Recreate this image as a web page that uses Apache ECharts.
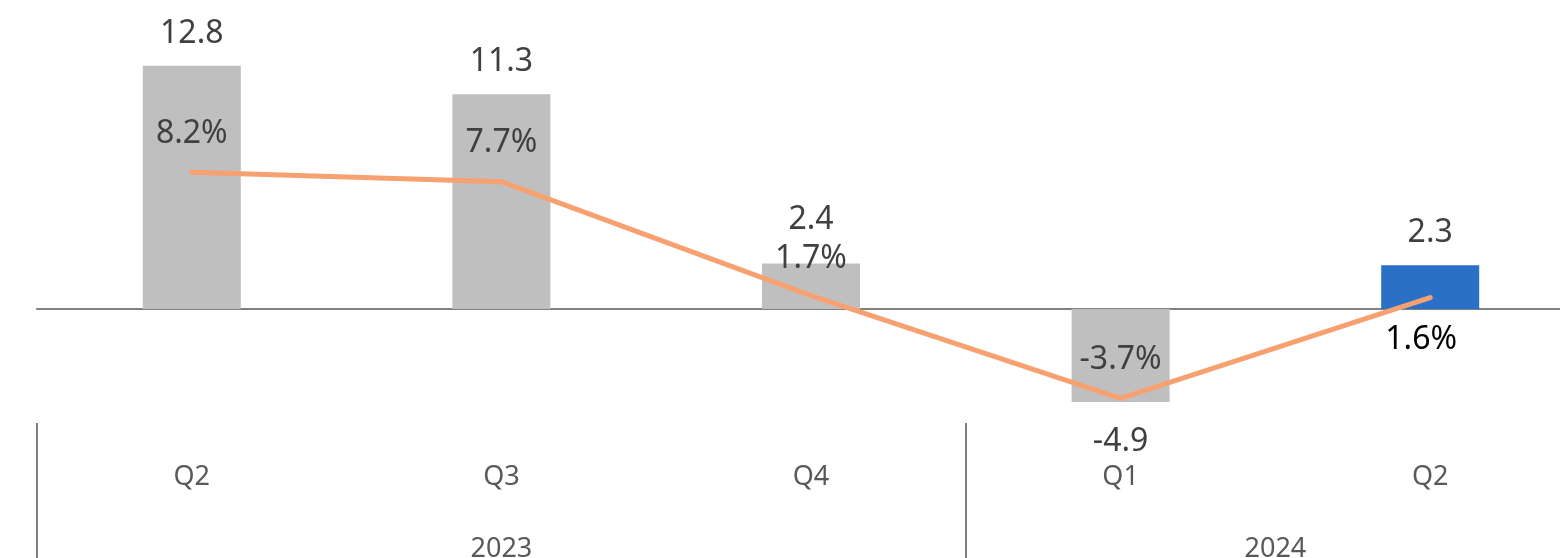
<!DOCTYPE html>
<html>
<head>
<meta charset="utf-8">
<script src="https://cdn.jsdelivr.net/npm/echarts@6/dist/echarts.min.js"></script>
<style>
html,body{margin:0;padding:0;background:#fff;}
#chart{width:1560px;height:558px;}
</style>
</head>
<body>
<div id="chart"></div>
<script>
// ---- data ----
var quarters = ['Q2', 'Q3', 'Q4', 'Q1', 'Q2'];
var years = ['2023', '2024'];
var yearSpans = [3, 2];
var barValues = [12.8, 11.3, 2.4, -4.9, 2.3];
var lineValues = [8.2, 7.7, 1.7, -3.7, 1.6];

// ---- styles ----
var FONT = 'Noto Sans';
var BAR_GRAY = '#bfbfbf';
var BAR_HILITE = '#2970c6';
var HILITE_INDEX = 4;
var LINE_COLOR = '#f8a170';
var barLabelShiftY = [0, 0, -12, 0, 0];
var lineLabelStyle = [
  {position: 'top', distance: 22},
  {position: 'top', distance: 22},
  {position: 'top', distance: 20},
  {position: 'top', distance: 22},
  {position: 'bottom', distance: 26, color: '#000000', offset: [-9, 0]}
];

// build year-group axis (half-category steps)
var total = quarters.length;
var yearAxisData = [];
for (var i = 0; i <= total * 2; i++) yearAxisData.push('');
var tickIdx = [0];
var start = 0;
years.forEach(function (y, k) {
  yearAxisData[start * 2 + yearSpans[k]] = y;
  start += yearSpans[k];
  tickIdx.push(start * 2);
});

var chart = echarts.init(document.getElementById('chart'), null, {renderer: 'canvas'});
var option = {
  animation: false,
  backgroundColor: '#ffffff',
  textStyle: {fontFamily: FONT},
  grid: {left: 37, top: 43, width: 1548, height: 380, containLabel: false, outerBoundsMode: 'none'},
  xAxis: [
    {
      type: 'category', data: quarters, position: 'bottom',
      axisLine: {show: true, onZero: true, lineStyle: {color: '#808080', width: 2}},
      axisTick: {show: false}, axisLabel: {show: false}, splitLine: {show: false}
    },
    {
      type: 'category', data: quarters, position: 'bottom',
      axisLine: {show: false}, axisTick: {show: false}, splitLine: {show: false},
      axisLabel: {show: true, margin: 41, fontSize: 27, color: '#595959', fontFamily: FONT, interval: 0}
    },
    {
      type: 'category', data: yearAxisData, position: 'bottom', boundaryGap: false,
      axisLine: {show: false}, splitLine: {show: false},
      axisTick: {show: true, length: 140, lineStyle: {color: '#7f7f7f', width: 2},
        interval: function (idx) { return tickIdx.indexOf(idx) >= 0; }},
      axisLabel: {show: true, margin: 113, fontSize: 27, color: '#595959', fontFamily: FONT,
        interval: function (idx, val) { return val !== ''; }}
    }
  ],
  yAxis: [
    {type: 'value', min: -6, max: 14, show: false, splitLine: {show: false}},
    {type: 'value', min: -5, max: 15, show: false, splitLine: {show: false}}
  ],
  series: [
    {
      type: 'bar', xAxisIndex: 0, yAxisIndex: 0, barWidth: 98,
      data: barValues.map(function (v, i) {
        return {
          value: v,
          itemStyle: {color: i === HILITE_INDEX ? BAR_HILITE : BAR_GRAY},
          label: {position: v >= 0 ? 'top' : 'bottom', distance: v >= 0 ? 16 : 24,
            offset: [0, barLabelShiftY[i]]}
        };
      }),
      label: {show: true, fontSize: 32, color: '#404040', fontFamily: FONT,
        formatter: function (p) { return p.value.toFixed(1); }},
      z: 2
    },
    {
      type: 'line', xAxisIndex: 0, yAxisIndex: 1,
      data: lineValues.map(function (v, i) {
        var s = lineLabelStyle[i];
        var lab = {position: s.position, distance: s.distance};
        if (s.color) lab.color = s.color;
        if (s.offset) lab.offset = s.offset;
        return {value: v, label: lab};
      }),
      symbol: 'circle', symbolSize: 1,
      itemStyle: {color: LINE_COLOR},
      lineStyle: {color: LINE_COLOR, width: 5, cap: 'round', join: 'round'},
      label: {show: true, fontSize: 32, color: '#404040', fontFamily: FONT,
        formatter: function (p) { return p.value.toFixed(1) + '%'; }},
      z: 3
    }
  ]
};
chart.setOption(option);
</script>
</body>
</html>
